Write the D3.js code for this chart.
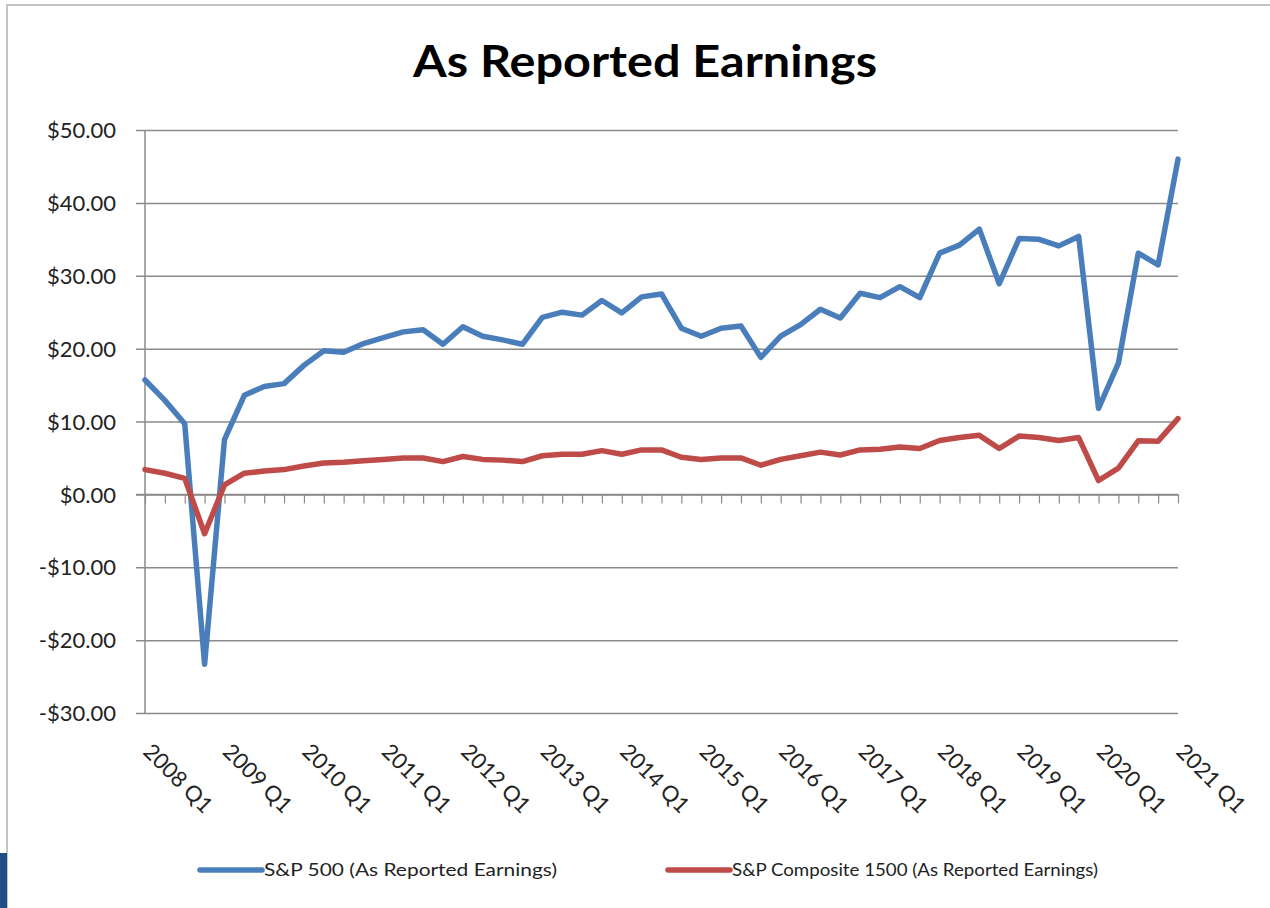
<!DOCTYPE html>
<html>
<head>
<meta charset="utf-8">
<script src="https://cdn.jsdelivr.net/npm/d3@7"></script>
<style>
  html, body { margin: 0; padding: 0; background: #ffffff; }
  svg { display: block; }
</style>
</head>
<body>
<svg id="chart" width="1270" height="908"></svg>
<script>
const quarters = [
  "2008 Q1","2008 Q2","2008 Q3","2008 Q4","2009 Q1","2009 Q2","2009 Q3","2009 Q4",
  "2010 Q1","2010 Q2","2010 Q3","2010 Q4","2011 Q1","2011 Q2","2011 Q3","2011 Q4",
  "2012 Q1","2012 Q2","2012 Q3","2012 Q4","2013 Q1","2013 Q2","2013 Q3","2013 Q4",
  "2014 Q1","2014 Q2","2014 Q3","2014 Q4","2015 Q1","2015 Q2","2015 Q3","2015 Q4",
  "2016 Q1","2016 Q2","2016 Q3","2016 Q4","2017 Q1","2017 Q2","2017 Q3","2017 Q4",
  "2018 Q1","2018 Q2","2018 Q3","2018 Q4","2019 Q1","2019 Q2","2019 Q3","2019 Q4",
  "2020 Q1","2020 Q2","2020 Q3","2020 Q4","2021 Q1"
];
const xTickLabels = ["2008 Q1","2009 Q1","2010 Q1","2011 Q1","2012 Q1","2013 Q1","2014 Q1",
  "2015 Q1","2016 Q1","2017 Q1","2018 Q1","2019 Q1","2020 Q1","2021 Q1"];
const yTicks = [50, 40, 30, 20, 10, 0, -10, -20, -30];

const sp500 = [15.7, 12.9, 9.7, -23.3, 7.5, 13.6, 14.8, 15.2, 17.7, 19.7,
  19.5, 20.7, 21.5, 22.3, 22.6, 20.6, 23.0, 21.7, 21.2, 20.6,
  24.3, 25.0, 24.6, 26.6, 24.9, 27.1, 27.5, 22.8, 21.7, 22.8,
  23.1, 18.8, 21.7, 23.3, 25.4, 24.2, 27.6, 27.0, 28.5, 27.0,
  33.1, 34.2, 36.4, 28.9, 35.1, 35.0, 34.1, 35.4, 11.8, 18.0,
  33.1, 31.5, 46.0];
const composite1500 = [3.4, 2.9, 2.2, -5.4, 1.3, 2.9, 3.2, 3.4, 3.9, 4.3,
  4.4, 4.6, 4.8, 5.0, 5.0, 4.5, 5.2, 4.8, 4.7, 4.5,
  5.3, 5.5, 5.5, 6.0, 5.5, 6.1, 6.1, 5.1, 4.8, 5.0,
  5.0, 4.0, 4.8, 5.3, 5.8, 5.4, 6.1, 6.2, 6.5, 6.3,
  7.4, 7.8, 8.1, 6.3, 8.0, 7.8, 7.4, 7.8, 1.9, 3.6,
  7.35, 7.3, 10.4];
const seriesNames = ["S&P 500 (As Reported Earnings)", "S&P Composite 1500 (As Reported Earnings)"];
const seriesColors = ["#4A7EBB", "#BE4B48"];

const svg = d3.select("#chart");
const font = "Lato, 'Open Sans', 'DejaVu Sans', sans-serif";

// outer frame
svg.append("rect").attr("x", 7).attr("y", 5).attr("width", 1280).attr("height", 920)
  .attr("fill", "#ffffff").attr("stroke", "#c4c4c4").attr("stroke-width", 2);
svg.append("rect").attr("x", 0).attr("y", 853).attr("width", 7).attr("height", 55)
  .attr("fill", "#1f4e85");

const x = d3.scalePoint().domain(quarters).range([145, 1178]);
const y = d3.scaleLinear().domain([-30, 50]).range([713, 130]);

// title
svg.append("text").attr("x", 645).attr("y", 77).attr("text-anchor", "middle")
  .attr("font-family", font).attr("font-weight", "bold").attr("font-size", 44)
  .attr("textLength", 464).attr("lengthAdjust", "spacingAndGlyphs")
  .attr("fill", "#000").text("As Reported Earnings");

// gridlines + y axis
const yAxis = d3.axisLeft(y).tickValues(yTicks)
  .tickSize(1178 - 136)
  .tickPadding(20)
  .tickFormat(d => (d < 0 ? "-$" : "$") + Math.abs(d).toFixed(2));
const gy = svg.append("g").attr("transform", "translate(1178,0)").call(yAxis);
gy.select(".domain").remove();
gy.selectAll(".tick line").attr("stroke", "#8a8a8a").attr("stroke-width", 1.5);
gy.selectAll(".tick text").attr("x", 116 - 1178).attr("font-family", font)
  .attr("font-size", 22).attr("fill", "#222").attr("dy", "0.35em");

// y axis line
svg.append("line").attr("x1", 145).attr("x2", 145).attr("y1", y(50)).attr("y2", y(-30))
  .attr("stroke", "#8a8a8a").attr("stroke-width", 1.5);

// x axis at zero with quarter tick marks
const xAxis = d3.axisBottom(x).tickSize(9).tickFormat("");
const gx = svg.append("g").attr("transform", `translate(0,${y(0)})`).call(xAxis);
gx.select(".domain").attr("stroke", "#8a8a8a").attr("stroke-width", 1.5)
  .attr("d", `M136,0H1178`);
gx.selectAll(".tick line").attr("stroke", "#8a8a8a").attr("stroke-width", 1.2);

// rotated category labels at bottom
svg.append("g").selectAll("text").data(xTickLabels).join("text")
  .attr("transform", d => `translate(${x(d) - 3},753) rotate(45)`)
  .attr("font-family", font).attr("font-size", 22).attr("fill", "#222")
  .attr("text-anchor", "start").text(d => d);

// lines
const line = d3.line().x((d, i) => x(quarters[i])).y(d => y(d));
[sp500, composite1500].forEach((s, k) => {
  svg.append("path").datum(s).attr("d", line).attr("fill", "none")
    .attr("stroke", seriesColors[k]).attr("stroke-width", 5.5)
    .attr("stroke-linejoin", "round").attr("stroke-linecap", "round");
});

// legend
const legendItems = [
  {x0: 200, x1: 262, tx: 264, tl: 293},
  {x0: 668, x1: 730, tx: 732, tl: 366}
];
legendItems.forEach((it, k) => {
  svg.append("line").attr("x1", it.x0).attr("x2", it.x1).attr("y1", 870).attr("y2", 870)
    .attr("stroke", seriesColors[k]).attr("stroke-width", 5.5).attr("stroke-linecap", "round");
  svg.append("text").attr("x", it.tx).attr("y", 876).attr("font-family", font)
    .attr("font-size", 17).attr("fill", "#222")
    .attr("textLength", it.tl).attr("lengthAdjust", "spacingAndGlyphs")
    .text(seriesNames[k]);
});
</script>
</body>
</html>
